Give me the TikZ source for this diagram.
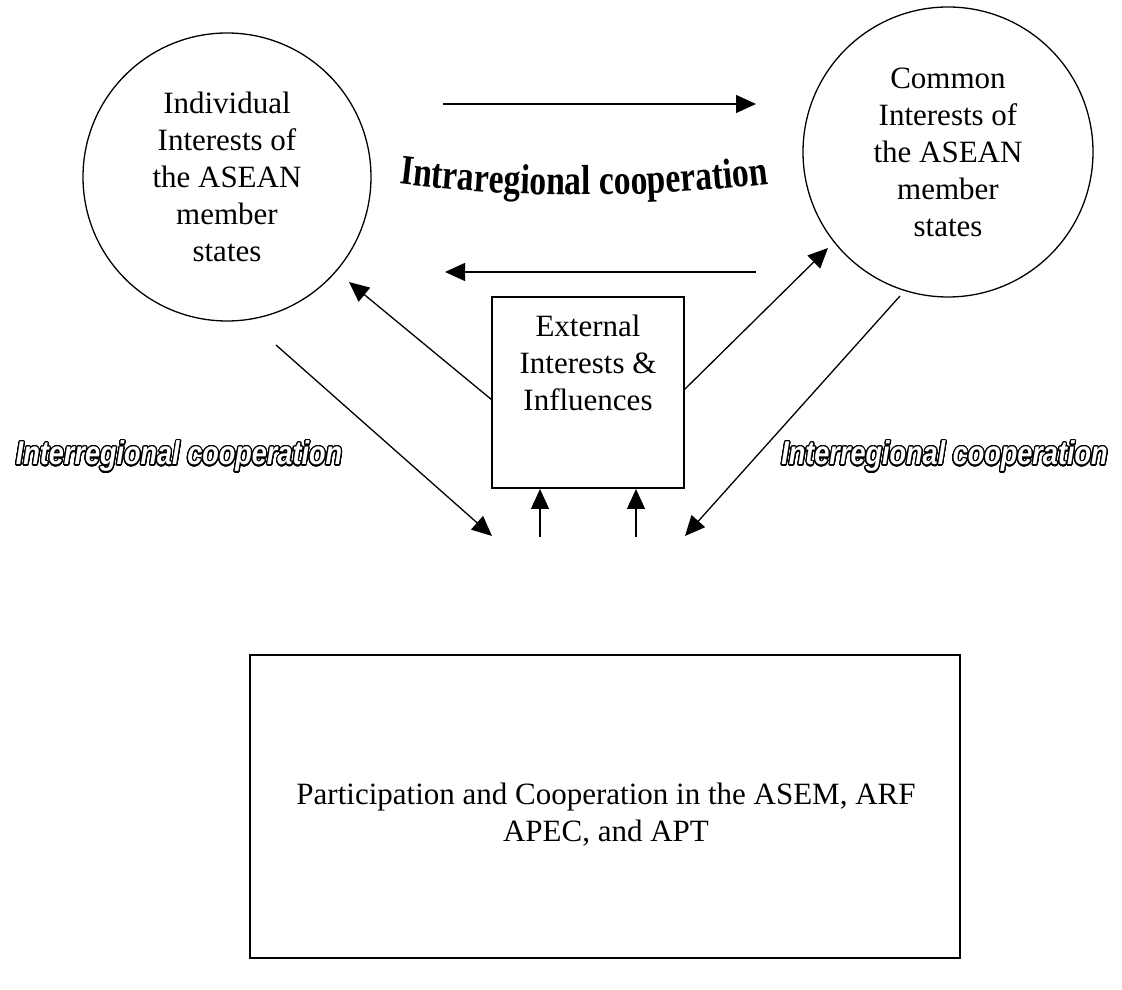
\documentclass[tikz,border=0pt]{standalone}
\usepackage{fontspec}
\setmainfont{Liberation Serif}
\newfontfamily\intersans{Liberation Sans}[FakeStretch=0.82]
\newfontfamily\intraserif{Liberation Serif}[FakeStretch=0.8]
\usepackage{contour}
\contourlength{1.2pt}
\contournumber{32}
\usetikzlibrary{arrows.meta,decorations.text,calc}
\newcommand\intrafont{\intraserif\fontsize{42}{48}\selectfont\bfseries}
\begin{document}
\begin{tikzpicture}[x=1pt,y=1pt,
  every node/.style={inner sep=0pt},
  txt/.style={font=\fontsize{31}{37}\selectfont, align=center},
  bubble/.style={draw, circle, line width=1.3pt, txt},
  frame/.style={draw, rectangle, line width=2pt},
  conn/.style={line width=1.3pt, -{Triangle[length=20pt,width=18pt]}},
  inter/.style={font=\intersans\bfseries\itshape\fontsize{33}{38}\selectfont},
]
\useasboundingbox (0,0) rectangle (1122,990);
% circles
\node[bubble, minimum size=288pt] (lc) at (227,813) {Individual\\Interests of\\the ASEAN\\member\\states};
\node[bubble, minimum size=290pt] (rc) at (948,838) {Common\\Interests of\\the ASEAN\\member\\states};
% external box
\node[frame, minimum width=192pt, minimum height=191pt] (ext) at (588,597.5) {};
\node[txt] (exttext) at (588,627) {External\\Interests \&\\Influences};
% bottom box
\node[frame, minimum width=710pt, minimum height=303pt] (part) at (605,183.5) {};
\node[txt] (parttext) at (606,175) {Participation and Cooperation in the ASEM, ARF\\APEC, and APT};
% labels
\node[inter, anchor=base] (interL) at (179,525) {\contour{black}{\textcolor{white}{Interregional cooperation}}};
\node[inter, anchor=base] (interR) at (944.5,525) {\contour{black}{\textcolor{white}{Interregional cooperation}}};
\path[decorate, decoration={text along path, text align=center,
  text={|\intrafont|Intraregional cooperation}}]
  (392,807) .. controls (518,791) and (650,791) .. (776,807);
% coordinates
\coordinate (t1) at (443,886); \coordinate (t2) at (756,886);
\coordinate (b1) at (756,718); \coordinate (b2) at (445,718);
\coordinate (sl1) at (492,590); \coordinate (sl2) at (349,708);
\coordinate (sr1) at (684,600); \coordinate (sr2) at (828,742);
\coordinate (ll1) at (276,645); \coordinate (ll2) at (492,454);
\coordinate (lr1) at (900,694); \coordinate (lr2) at (685,454);
\coordinate (u1) at (540,453); \coordinate (u2) at (636,453);
% connectors
\draw[conn] (t1) -- (t2);
\draw[conn] (b1) -- (b2);
\draw[conn] (sl1) -- (sl2);
\draw[conn] (sr1) -- (sr2);
\draw[conn] (ll1) -- (ll2);
\draw[conn] (lr1) -- (lr2);
\draw[conn] (u1) -- (u1 |- ext.south);
\draw[conn] (u2) -- (u2 |- ext.south);
\end{tikzpicture}
\end{document}
